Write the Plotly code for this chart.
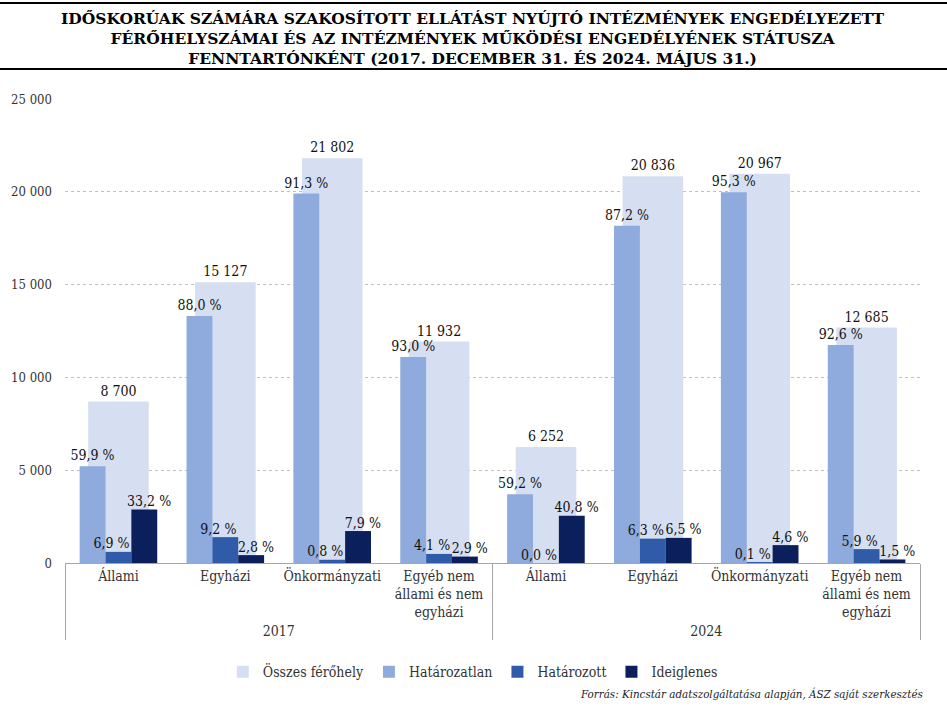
import plotly.graph_objects as go

# fenntartók és évek
years = ["2017"] * 4 + ["2024"] * 4
fenntarto = ["Állami", "Egyházi", "Önkormányzati", "Egyéb nem<br>állami és nem<br>egyházi"] * 2

# férőhelyek (leolvasott értékek)
osszes = [8700, 15127, 21802, 11932, 6252, 20836, 20967, 12685]
hatarozatlan = [5211, 13312, 19905, 11097, 3701, 18169, 19982, 11746]
hatarozott = [600, 1392, 174, 489, 0, 1313, 21, 748]
ideiglenes = [2888, 424, 1722, 346, 2551, 1354, 964, 190]

osszes_txt = ["8 700", "15 127", "21 802", "11 932", "6 252", "20 836", "20 967", "12 685"]
hatarozatlan_txt = ["59,9 %", "88,0 %", "91,3 %", "93,0 %", "59,2 %", "87,2 %", "95,3 %", "92,6 %"]
hatarozott_txt = ["6,9 %", "9,2 %", "0,8 %", "4,1 %", "0,0 %", "6,3 %", "0,1 %", "5,9 %"]
ideiglenes_txt = ["33,2 %", "2,8 %", "7,9 %", "2,9 %", "40,8 %", "6,5 %", "4,6 %", "1,5 %"]

FONT = "DejaVu Serif Condensed"
x = [years, fenntarto]
w = 0.242
lbl_font = dict(family=FONT, size=14, color="#111")

fig = go.Figure()
series = [
    # name, values, labels, colour, offset, width, label shift (None = bar text)
    ("Összes férőhely", osszes, osszes_txt, "#D6DFF1", -0.283, 0.567, None),
    ("Határozatlan", hatarozatlan, hatarozatlan_txt, "#8FAADC", -0.363, w, None),
    ("Határozott", hatarozott, hatarozott_txt, "#2F5BA8", -0.121, w, -0.065),
    ("Ideiglenes", ideiglenes, ideiglenes_txt, "#0B1F5C", 0.121, w, 0.045),
]
for name, vals, txt, col, off, wid, shift in series:
    fig.add_trace(go.Bar(
        x=x, y=vals, name=name,
        text=txt if shift is None else None, textposition="outside",
        textfont=lbl_font, constraintext="none", cliponaxis=False,
        marker=dict(color=col, line=dict(width=0)),
        offset=off, width=wid, opacity=1,
    ))
    if shift is not None:
        # small neighbouring labels are nudged apart, as in the original
        fig.add_trace(go.Scatter(
            x=[i + off + wid / 2 + shift for i in range(len(vals))], y=vals,
            mode="text", text=txt, textposition="top center", textfont=lbl_font,
            xaxis="x2", showlegend=False, hoverinfo="skip", cliponaxis=False,
        ))

fig.update_layout(
    width=947, height=712,
    barmode="overlay",
    separators=", ",
    plot_bgcolor="white", paper_bgcolor="white",
    font=dict(family=FONT, size=14, color="#333"),
    margin=dict(l=65, r=27, t=99, b=149),
    legend=dict(
        orientation="h", x=0.477, xanchor="center", y=-0.235, yanchor="middle",
        font=dict(family=FONT, size=14, color="#333"),
        itemwidth=30, traceorder="normal",
    ),
    xaxis2=dict(overlaying="x", anchor="y", range=[-0.5, 7.5], visible=False),
    showlegend=True,
)
fig.update_yaxes(
    range=[0, 25000], dtick=5000, tickformat=",d",
    showgrid=True, gridcolor="#BFBFBF", griddash="dot", gridwidth=1,
    zeroline=False, ticks="", ticklabelstandoff=12,
    tickfont=dict(family=FONT, size=13, color="#333"),
)
fig.layout.xaxis.update(showline=True, linecolor="#A6A6A6", linewidth=1,
                        showdividers=True, dividercolor="#A6A6A6", dividerwidth=1,
                        tickfont=dict(family=FONT, size=14, color="#333"), ticks="")

# cím
fig.add_annotation(
    text="<b>IDŐSKORÚAK SZÁMÁRA SZAKOSÍTOTT ELLÁTÁST NYÚJTÓ INTÉZMÉNYEK ENGEDÉLYEZETT<br>"
         "FÉRŐHELYSZÁMAI ÉS AZ INTÉZMÉNYEK MŰKÖDÉSI ENGEDÉLYÉNEK STÁTUSZA<br>"
         "FENNTARTÓNKÉNT (2017. DECEMBER 31. ÉS 2024. MÁJUS 31.)</b>",
    xref="paper", yref="paper", x=(473 - 65) / 855, y=1 + (99 - 38) / 464,
    xanchor="center", yanchor="middle", showarrow=False,
    font=dict(family="DejaVu Serif", size=15.5, color="black"),
)

# vízszintes vonalak a cím körül
for py in [3, 69]:
    yy = 1 + (99 - py) / 464
    fig.add_shape(type="line", xref="paper", yref="paper",
                  x0=-65 / 855, x1=1 + 27 / 855, y0=yy, y1=yy,
                  line=dict(color="black", width=2))

fig.add_annotation(
    text="<i>Forrás: Kincstár adatszolgáltatása alapján, ÁSZ saját szerkesztés</i>",
    xref="paper", yref="paper", x=1.006, y=(563 - 694) / 464,
    xanchor="right", yanchor="middle", showarrow=False,
    font=dict(family=FONT, size=11.5, color="#222"),
)

# drop the browser's default 8px body margin so the figure fills the window
fig.write_html("out.html", config={"displayModeBar": False},
               post_script="document.body.style.margin='0';")
